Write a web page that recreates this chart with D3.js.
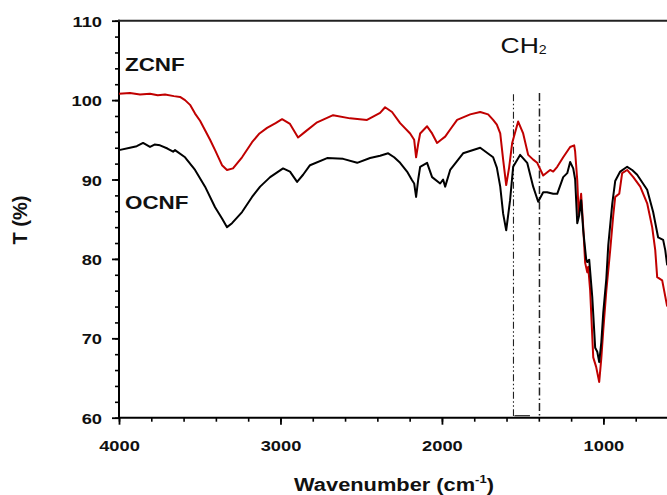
<!DOCTYPE html>
<html>
<head>
<meta charset="utf-8">
<script src="https://cdn.jsdelivr.net/npm/d3@7"></script>
<style>
  body { margin: 0; background: #fff; }
  svg { display: block; overflow: hidden; }
  text { font-family: "Liberation Sans", Arial, sans-serif; }
</style>
</head>
<body>
<div id="chart"></div>
<script>
// FTIR spectra (wavenumber cm-1, transmittance %)
const zcnfWave = [4000, 3932, 3870, 3808, 3760, 3715, 3660, 3622, 3591, 3560, 3529, 3498, 3467, 3436, 3405, 3380, 3362, 3331, 3294, 3238, 3176, 3130, 3083, 3030, 2990, 2941, 2891, 2848, 2773, 2674, 2569, 2464, 2383, 2352, 2309, 2259, 2197, 2172, 2160, 2147, 2135, 2092, 2061, 2030, 2005, 1980, 1949, 1906, 1825, 1763, 1714, 1683, 1660, 1639, 1621, 1602, 1584, 1565, 1528, 1497, 1466, 1435, 1410, 1373, 1330, 1311, 1286, 1249, 1206, 1181, 1175, 1162, 1153, 1138, 1125, 1113, 1100, 1094, 1082, 1063, 1045, 1026, 1013, 1001, 982, 958, 939, 927, 915, 902, 884, 853, 815, 772, 729, 698, 679, 667, 636, 605];
const zcnfT    = [100.8, 100.9, 100.7, 100.8, 100.6, 100.7, 100.5, 100.4, 100.0, 99.4, 98.3, 97.4, 96.2, 95.0, 93.7, 92.6, 91.8, 91.2, 91.4, 92.8, 94.7, 95.8, 96.5, 97.1, 97.6, 97.0, 95.3, 96.0, 97.2, 98.1, 97.7, 97.5, 98.4, 99.1, 98.5, 97.1, 95.8, 95.0, 92.8, 94.5, 95.8, 96.7, 95.8, 94.6, 95.0, 95.4, 96.3, 97.5, 98.2, 98.5, 98.2, 97.5, 96.9, 95.8, 92.5, 89.3, 91.5, 94.6, 97.3, 95.8, 93.1, 92.5, 92.1, 90.5, 91.2, 91.0, 91.6, 92.8, 94.1, 94.3, 93.5, 89.9, 85.5, 88.2, 84.0, 79.5, 78.3, 79.0, 76.0, 67.6, 66.4, 64.5, 67.5, 71.0, 76.0, 81.1, 85.5, 87.8, 88.0, 88.2, 90.8, 91.2, 90.3, 89.1, 87.0, 84.0, 81.1, 77.7, 77.3, 74.0];

const ocnfWave = [4000, 3932, 3890, 3851, 3808, 3780, 3746, 3700, 3665, 3653, 3591, 3529, 3467, 3405, 3362, 3331, 3300, 3238, 3176, 3126, 3064, 2984, 2941, 2897, 2860, 2817, 2711, 2612, 2525, 2445, 2383, 2333, 2296, 2259, 2216, 2185, 2172, 2160, 2147, 2135, 2092, 2061, 2011, 1993, 1980, 1949, 1869, 1763, 1683, 1660, 1639, 1621, 1602, 1578, 1559, 1516, 1472, 1435, 1404, 1373, 1349, 1311, 1286, 1249, 1224, 1206, 1187, 1175, 1162, 1150, 1138, 1125, 1107, 1100, 1088, 1069, 1051, 1038, 1026, 1013, 1001, 982, 970, 945, 927, 896, 853, 822, 791, 729, 692, 661, 630, 617, 605];
const ocnfT    = [93.7, 94.0, 94.2, 94.6, 94.1, 94.4, 94.3, 93.9, 93.5, 93.7, 92.8, 91.2, 89.1, 86.5, 85.1, 84.0, 84.5, 85.9, 87.8, 89.1, 90.3, 91.4, 91.0, 89.7, 90.6, 91.8, 92.7, 92.6, 92.1, 92.7, 93.0, 93.3, 92.8, 92.1, 91.0, 89.9, 89.5, 87.8, 90.0, 91.6, 92.1, 90.3, 89.5, 90.0, 89.1, 91.2, 93.3, 94.0, 92.8, 91.5, 89.1, 85.7, 83.6, 87.4, 91.6, 93.1, 92.1, 89.1, 87.2, 88.4, 88.4, 88.2, 88.2, 90.3, 90.8, 92.2, 91.4, 90.0, 84.5, 85.5, 87.4, 83.6, 80.0, 79.6, 79.9, 75.2, 68.8, 68.3, 67.0, 69.5, 73.2, 77.5, 81.7, 87.0, 89.8, 91.0, 91.6, 91.2, 90.6, 88.7, 85.9, 82.7, 82.4, 81.1, 79.2];

const xMajorTicks = [4000, 3000, 2000, 1000];
const xMinorTicks = d3.range(4000, 599, -200);
const yMajorTicks = [60, 70, 80, 90, 100, 110];
const yMinorTicks = d3.range(60, 111, 2);
const ch2Marks = [1557, 1396];

const W = 667, H = 495;
const SX = 1.18; // the figure is stretched horizontally
const plotLeft = 119, plotTop = 20.7, plotBottom = 417.7;

const svg = d3.select("#chart").append("svg")
    .attr("width", W)
    .attr("height", H);

const x = d3.scaleLinear().domain([4000, 600]).range([plotLeft, 668]);
const y = d3.scaleLinear().domain([60, 110]).range([plotBottom, plotTop]);

// minor ticks
svg.append("g")
    .attr("transform", "translate(0," + plotBottom + ")")
    .call(d3.axisBottom(x).tickValues(xMinorTicks).tickSize(4).tickSizeOuter(0).tickFormat(""))
    .call(g => g.select(".domain").remove())
    .selectAll("line").attr("stroke-width", 1.6);
svg.append("g")
    .attr("transform", "translate(" + plotLeft + ",0)")
    .call(d3.axisLeft(y).tickValues(yMinorTicks).tickSize(4).tickSizeOuter(0).tickFormat(""))
    .call(g => g.select(".domain").remove())
    .selectAll("line").attr("stroke-width", 1.6);

// major ticks + labels
const xAxis = svg.append("g")
    .attr("transform", "translate(0," + plotBottom + ")")
    .call(d3.axisBottom(x).tickValues(xMajorTicks).tickSize(7).tickSizeOuter(0).tickFormat(d3.format("d")));
xAxis.select(".domain").remove();
xAxis.selectAll("line").attr("stroke-width", 1.8);
xAxis.selectAll("text")
    .attr("y", 33).attr("dy", 0)
    .attr("transform", "scale(" + SX + ",1)")
    .style("font-size", "15.5px").style("font-weight", "bold")
    .style("font-family", "'Liberation Sans', Arial, sans-serif")
    .attr("fill", "#111");

const yAxis = svg.append("g")
    .attr("transform", "translate(" + plotLeft + ",0)")
    .call(d3.axisLeft(y).tickValues(yMajorTicks).tickSize(7).tickSizeOuter(0));
yAxis.select(".domain").remove();
yAxis.selectAll("line").attr("stroke-width", 1.8);
yAxis.selectAll("text")
    .attr("x", -17 / SX).attr("dy", "0.36em")
    .attr("transform", "scale(" + SX + ",1)")
    .style("font-size", "15.5px").style("font-weight", "bold")
    .style("font-family", "'Liberation Sans', Arial, sans-serif")
    .attr("fill", "#111");

// frame lines
svg.append("line").attr("x1", plotLeft).attr("x2", plotLeft).attr("y1", plotTop - 1).attr("y2", plotBottom + 1)
    .attr("stroke", "#000").attr("stroke-width", 2);
svg.append("line").attr("x1", plotLeft - 1).attr("x2", W).attr("y1", plotBottom).attr("y2", plotBottom)
    .attr("stroke", "#000").attr("stroke-width", 2);
svg.append("line").attr("x1", plotLeft - 1).attr("x2", W).attr("y1", plotTop).attr("y2", plotTop)
    .attr("stroke", "#222").attr("stroke-width", 2);

// CH2 dash-dot markers
svg.selectAll(".mark")
    .data(ch2Marks)
    .enter().append("line")
    .attr("x1", d => x(d)).attr("x2", d => x(d))
    .attr("y1", (d, i) => y(i == 0 ? 100.75 : 100.9))
    .attr("y2", y(60.2))
    .attr("stroke", "#222")
    .attr("stroke-width", (d, i) => i == 0 ? 1.1 : 1.5)
    .attr("stroke-dasharray", (d, i) => i == 0 ? "7,2.5,1.5,2.5,1.5,2.5" : "8,3,1.5,3");
svg.append("line")
    .attr("x1", x(ch2Marks[0]) + 1).attr("x2", x(1455))
    .attr("y1", y(60.25)).attr("y2", y(60.25))
    .attr("stroke", "#222").attr("stroke-width", 1.2);

// spectra
const line = d3.line()
    .x(d => x(d[0]))
    .y(d => y(d[1]));

const zcnf = zcnfWave.map((w, i) => [w, zcnfT[i]]);
const ocnf = ocnfWave.map((w, i) => [w, ocnfT[i]]);

svg.append("path")
    .datum(zcnf)
    .attr("fill", "none")
    .attr("stroke", "#c00000")
    .attr("stroke-width", 2)
    .attr("stroke-linejoin", "round")
    .attr("d", line);

svg.append("path")
    .datum(ocnf)
    .attr("fill", "none")
    .attr("stroke", "#000")
    .attr("stroke-width", 2)
    .attr("stroke-linejoin", "round")
    .attr("d", line);

// labels
function stretched(px, py, anchor) {
    return svg.append("text")
        .attr("transform", "translate(" + px + "," + py + ") scale(" + SX + ",1)")
        .attr("text-anchor", anchor);
}

stretched(125, 71, "start").text("ZCNF")
    .style("font-size", "19px").style("font-weight", "bold").attr("fill", "#111");
stretched(125, 209, "start").text("OCNF")
    .style("font-size", "19px").style("font-weight", "bold").attr("fill", "#111");

const ch2 = stretched(500.5, 53.3, "start").style("font-size", "22.5px").attr("fill", "#111");
ch2.append("tspan").text("CH");
ch2.append("tspan").attr("dy", 1).style("font-size", "12px").text("2");

const xt = stretched(394, 491, "middle")
    .style("font-size", "18.5px").style("font-weight", "bold").attr("fill", "#111");
xt.append("tspan").text("Wavenumber (cm");
xt.append("tspan").attr("dy", -8).style("font-size", "11px").text("-1");
xt.append("tspan").attr("dy", 8).text(")");

svg.append("text")
    .attr("transform", "translate(26.5,220) rotate(-90)")
    .attr("text-anchor", "middle")
    .style("font-size", "20px").style("font-weight", "bold").attr("fill", "#111")
    .text("T (%)");
</script>
</body>
</html>
